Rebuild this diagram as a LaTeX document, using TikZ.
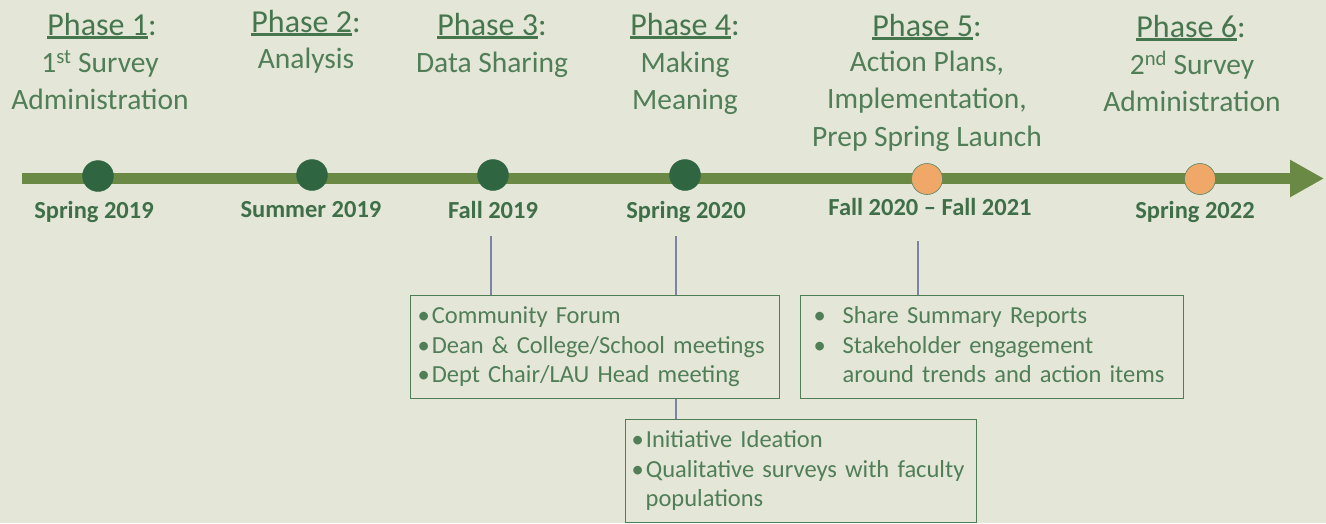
\documentclass[tikz,border=0pt]{standalone}
\usepackage{fontspec}
\setmainfont{Carlito}
\usetikzlibrary{arrows.meta}

\definecolor{bgcol}{HTML}{E4E6D8}
\definecolor{linecol}{HTML}{6A8945}
\definecolor{dotcol}{HTML}{2F6641}
\definecolor{orangecol}{HTML}{EFA867}
\definecolor{titlecol}{HTML}{46764E}
\definecolor{desccol}{HTML}{4F7E57}
\definecolor{datecol}{HTML}{3F6F49}
\definecolor{boxcol}{HTML}{4F7D56}
\definecolor{linkcol}{HTML}{7D82A6}

% underlined phase number
\newcommand{\ulph}[1]{\setbox0\hbox{#1}\rlap{\rule[-4pt]{\wd0}{2.8pt}}\box0}
% bullet with a small gap
\newcommand{\bul}{\textbullet\hspace{2pt}}

\tikzset{
  phasetitle/.style={anchor=base, inner sep=0, text=titlecol, font=\fontsize{32}{38}\selectfont},
  phasetext/.style={anchor=north, inner sep=0, align=center, text=desccol, font=\fontsize{29.5}{37.5}\selectfont},
  datelabel/.style={anchor=base, inner sep=0, text=datecol, font=\fontsize{24.5}{30}\selectfont\bfseries},
  milestone/.style={circle, fill=dotcol, draw=dotcol, minimum size=31, inner sep=0},
  upcoming/.style={circle, fill=orangecol, draw=dotcol!80, line width=0.6, minimum size=31, inner sep=0},
  infobox/.style={draw=boxcol, line width=1.3, anchor=north west, align=left, inner ysep=0,
    text=desccol, font=\fontsize{24.5}{29.5}\selectfont},
  link/.style={draw=linkcol, line width=1.1},
}

\begin{document}
\begin{tikzpicture}[x=1pt,y=1pt,yscale=-1,xscale=1]
\fill[bgcol] (0,0) rectangle (1326,523);
\useasboundingbox (0,0) rectangle (1326,523);

%Timeline with arrow
\coordinate (tlstart) at (22,178.5);
\coordinate (tlend) at (1324,178.5);
\draw[linecol, line width=11, -{Triangle[length=34pt,width=35pt]}] (tlstart) -- (tlend);

%Milestone dots
\node[milestone] (spring19) at (98,176) {};
\node[milestone] (summer19) at (312,175) {};
\node[milestone] (fall19) at (493,175) {};
\node[milestone] (spring20) at (685,175) {};
\node[upcoming] (fall20) at (927,179) {};
\node[upcoming] (spring22) at (1200,179) {};

% Text Node: dates
\node[datelabel] (dspring19) at (94,218) {Spring 2019};
\node[datelabel] (dsummer19) at (311,217) {Summer 2019};
\node[datelabel] (dfall19) at (493,218) {Fall 2019};
\node[datelabel] (dspring20) at (686,218) {Spring 2020};
\node[datelabel] (dfall20) at (930,215) {Fall 2020 -- Fall 2021};
\node[datelabel] (dspring22) at (1195,218) {Spring 2022};

% Text Node: phases
\node[phasetitle] (ph1) at (102,35) {\ulph{Phase 1}:};
\node[phasetext] (txt1) at (100,45.75) {\strut 1\textsuperscript{st} Survey\\Administration};
\node[phasetitle] (ph2) at (306,32) {\ulph{Phase 2}:};
\node[phasetext] (txt2) at (306,41.75) {\strut Analysis};
\node[phasetitle] (ph3) at (492,35) {\ulph{Phase 3}:};
\node[phasetext] (txt3) at (492,45.75) {\strut Data Sharing};
\node[phasetitle] (ph4) at (685,35) {\ulph{Phase 4}:};
\node[phasetext] (txt4) at (685,45.75) {\strut Making\\Meaning};
\node[phasetitle] (ph5) at (927,36) {\ulph{Phase 5}:};
\node[phasetext] (txt5) at (927,44.75) {\strut Action Plans,\\Implementation,\\Prep Spring Launch};
\node[phasetitle] (ph6) at (1191,37) {\ulph{Phase 6}:};
\node[phasetext] (txt6) at (1192,47.75) {\strut 2\textsuperscript{nd} Survey\\Administration};

%Shape: boxes
\node[infobox, minimum width=369, minimum height=103, text width=355, inner xsep=7] (forum) at (410,295)
  {\strut\bul Community Forum\\\bul Dean \& College/School meetings\\\bul Dept Chair/LAU Head meeting\strut};
\node[infobox, minimum width=383, minimum height=103, text width=357, inner xsep=13] (reports) at (800,295)
  {\strut\makebox[29pt][l]{\textbullet}Share Summary Reports\\\makebox[29pt][l]{\textbullet}Stakeholder engagement\\\hspace*{29pt}around trends and action items\strut};
\node[infobox, minimum width=351, minimum height=103, text width=339, inner xsep=6] (ideation) at (625,419)
  {\strut\bul Initiative Ideation\\\bul Qualitative surveys with faculty\\\hspace*{14pt}populations\strut};

%Straight Lines: connectors
\coordinate (c3) at (491,236);
\coordinate (c4) at (676,236);
\coordinate (c5) at (918,241);
\draw[link] (c3) -- (forum.north -| c3);
\draw[link] (c4) -- (forum.north -| c4);
\draw[link] (forum.south -| c4) -- (ideation.north -| c4);
\draw[link] (c5) -- (reports.north -| c5);

\end{tikzpicture}
\end{document}
